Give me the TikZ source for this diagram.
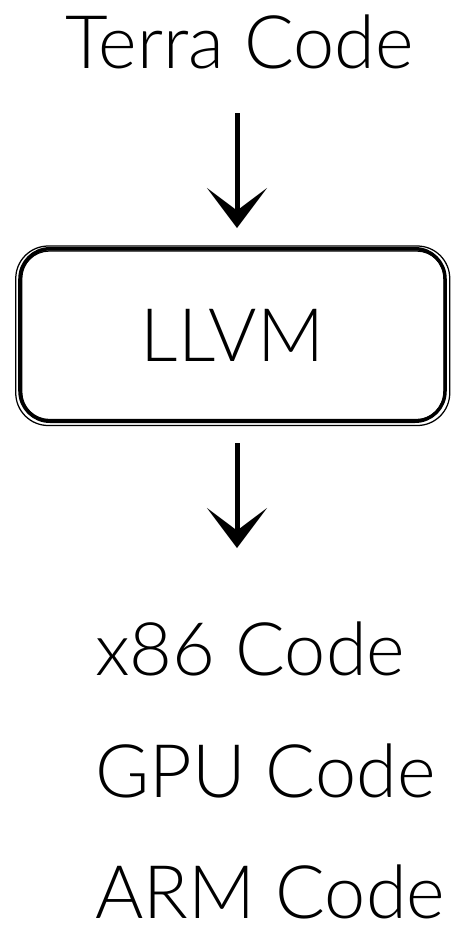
\documentclass[tikz,border=0pt]{standalone}
\usepackage{fontspec}
\setmainfont{Lato Light}
\usetikzlibrary{arrows.meta}
\begin{document}
\begin{tikzpicture}[font=\fontsize{42}{50}\selectfont,
    codetext/.style={inner sep=0pt},
    llvmbox/.style={draw,line width=0.07cm,rounded corners=0.6cm,minimum width=8.5cm,minimum height=3.45cm,inner sep=0pt},
    sketch/.style={line width=0.025cm},
    sketcharrow/.style={line width=0.1cm,-{Stealth[length=0.8cm,width=1.2cm,inset=0.45cm]}}]
  \useasboundingbox (0,0) rectangle (9.04,-18.52);
  \node[codetext,anchor=base] (terra) at (4.79,-1.36) {Terra Code};
  \node[llvmbox] (llvm) at (4.65,-6.70) {LLVM};
  % rough second strokes round the box
  \draw[sketch,rounded corners=0.55cm] ([shift={(0.07,-0.08)}]llvm.north west) rectangle ([shift={(-0.05,0.07)}]llvm.south east);
  \draw[sketch,rounded corners=0.65cm] ([shift={(-0.05,0.02)}]llvm.north west) rectangle ([shift={(0.06,-0.05)}]llvm.south east);
  \node[codetext,anchor=base west] (x86) at (1.9,-13.5) {x86 Code};
  \node[codetext,anchor=base west] (gpu) at (1.9,-15.94) {GPU Code};
  \node[codetext,anchor=base west] (arm) at (1.9,-18.36) {ARM Code};
  \draw[sketcharrow,shorten <=0.9cm,shorten >=0.38cm] ([xshift=-0.05cm]terra.base) -- ([xshift=-0.05cm]terra.base |- llvm.north);
  \draw[sketcharrow,shorten <=0.4cm,shorten >=2.54cm] ([xshift=0.09cm]llvm.south) -- ([xshift=0.09cm]llvm.south |- x86.base);
\end{tikzpicture}
\end{document}
